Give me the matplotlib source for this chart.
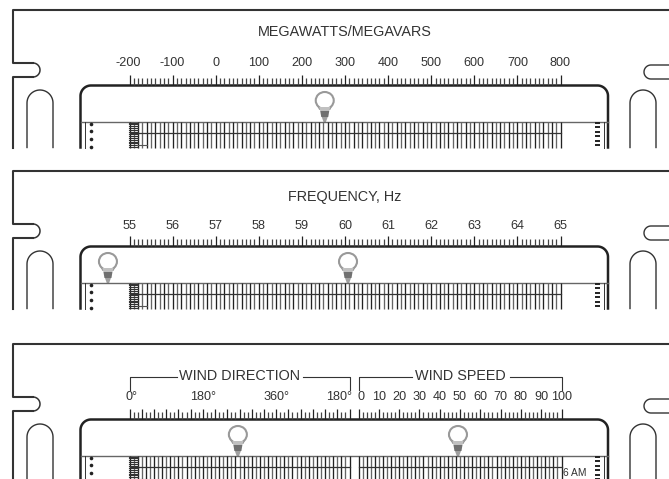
import numpy as np
import matplotlib
matplotlib.use('Agg')
import matplotlib.pyplot as plt
from matplotlib.patches import Polygon, Ellipse

plt.rcParams['font.family'] = ['Liberation Sans', 'DejaVu Sans']

# scale labels of the three meter panels
mw_labels = ['-200', '-100', '0', '100', '200', '300', '400', '500', '600', '700', '800']
hz_labels = ['55', '56', '57', '58', '59', '60', '61', '62', '63', '64', '65']
dir_labels = ['0°', '180°', '360°', '180°']
spd_labels = ['0', '10', '20', '30', '40', '50', '60', '70', '80', '90', '100']

mw_values = np.arange(-200, 801, 100)
hz_values = np.arange(55, 66, 1)
dir_values = [0, 180, 360, 540]
spd_values = np.arange(0, 101, 10)

# pointer readings
mw_pointer = [253]
hz_pointer = [54.5, 60.07]
dir_pointer = [266]
spd_pointer = [49]

dark = '#333333'
INK = 1.5

fig = plt.figure(figsize=(6.69, 4.79), dpi=100)
ax = fig.add_axes([0, 0, 1, 1])
ax.set_xlim(0, 669)
ax.set_ylim(479, 0)
ax.axis('off')


def arc(cx, cy, r, a0, a1):
    t = np.radians(np.linspace(a0, a1, 30))
    return cx + r * np.cos(t), cy + r * np.sin(t)


def frame(top, off):
    # outer plate with notches and slots, clipped at bottom
    bot = off + 147.5
    ax.plot([669, 13, 13, 33], [top, top, off + 63, off + 63], color=dark, lw=INK)
    x, y = arc(33, off + 70, 7, -90, 90)
    ax.plot(x, y, color=dark, lw=1.1)
    ax.plot([33, 13, 13], [off + 77, off + 77, bot], color=dark, lw=INK)
    # slots
    for x0 in (40, 643):
        x, y = arc(x0, off + 103, 13, 180, 360)
        ax.plot(np.r_[x0 - 13, x, x0 + 13], np.r_[bot, y, bot], color=dark, lw=1.0)
    # right notch
    x, y = arc(651, off + 72, 7, 90, 270)
    ax.plot(np.r_[669, x, 669], np.r_[off + 79, y, off + 65], color=dark, lw=1.0)
    # meter body
    x1, y1 = arc(91, off + 96, 10.5, 180, 270)
    x2, y2 = arc(597.5, off + 96, 10.5, 270, 360)
    ax.plot(np.r_[80.5, x1, x2, 608, 608], np.r_[bot, y1, y2, off + 96, bot],
            color='#222222', lw=1.8)
    ax.plot([80.5, 608], [off + 122, off + 122], color='#666666', lw=1.0)
    ax.plot([85, 85], [off + 122, bot], color=dark, lw=0.7)
    ax.plot([604, 604], [off + 122, bot], color=dark, lw=0.7)
    ax.plot([91] * 4, off + np.array([123.5, 131, 139, 146.5]), 'o', color='#222222', ms=2.6, mew=0)
    for yy in off + np.array([122.5, 127, 131.5, 136, 140.5, 145]):
        ax.plot([594.5, 600], [yy, yy], color='#222222', lw=1.4, solid_capstyle='butt')


def scale(x0, x1, off, n, every, label_vals, labels, vmin, vmax, nudge=None, label_y=62.5):
    xs = np.linspace(x0, x1, n + 1)
    for i, xx in enumerate(xs):
        tall = i % every == 0
        ax.plot([xx, xx], [off + (75 if tall else 78), off + 85], color='#222222' if tall else '#444444',
                lw=0.9, solid_capstyle='butt')
    for i, (v, s) in enumerate(zip(label_vals, labels)):
        xx = x0 + (v - vmin) / (vmax - vmin) * (x1 - x0)
        if nudge and i in nudge:
            xx += nudge[i]
        ax.text(xx, off + label_y, s, ha='center', va='center', fontsize=9.1, color=dark)


def grid(x0, x1, off, n):
    bot = off + 147.5
    for i, xx in enumerate(np.linspace(x0, x1, n + 1)):
        ax.plot([xx, xx], [off + 122, bot], color='#222222' if i % 2 == 0 else '#666666',
                lw=0.95, solid_capstyle='butt')
    ax.plot([x0, x1], [off + 133, off + 133], color=dark, lw=0.9)


def dense(off):
    bot = off + 147.5
    for yy in np.arange(off + 122.5, bot, 1.9):
        ax.plot([129, 137.5], [yy, yy], color='#333333', lw=0.8)
    ax.plot([137, 147], [off + 144.5, off + 144.5], color='#555555', lw=0.8)


def pointer(x, off):
    # bulb shaped meter pointer
    ax.add_patch(Polygon([[x - 8.5, off + 102], [x - 5, off + 109], [x + 5, off + 109], [x + 8.5, off + 102]],
                         fc='white', ec='#999999', lw=1.3))
    ax.add_patch(Ellipse((x, off + 100.5), 18, 17, fc='white', ec='#999999', lw=1.5))
    ax.add_patch(Polygon([[x - 5.5, off + 107], [x + 5.5, off + 107], [x + 4.5, off + 111], [x - 4.5, off + 111]],
                         fc='#c0c0c0', ec='none'))
    ax.add_patch(Polygon([[x - 4.5, off + 111], [x + 4.5, off + 111], [x + 3.5, off + 117], [x - 3.5, off + 117]],
                         fc='#707070', ec='none'))
    ax.add_patch(Polygon([[x - 3, off + 117], [x + 3, off + 117], [x + 1, off + 122.5], [x - 1, off + 122.5]],
                         fc='#a0a0a0', ec='none'))


X0, X1 = 129.5, 560.5

# panel 1
frame(10, 0)
ax.text(345, 31.5, 'MEGAWATTS/MEGAVARS', ha='center', va='center', fontsize=10.4, color=dark)
scale(X0, X1, 0, 100, 10, mw_values, mw_labels, -200, 800, {0: -1.5})
grid(X0, X1, 0, 100)
dense(0)
for v in mw_pointer:
    pointer(X0 + (v + 200) / 1000 * (X1 - X0), 0)

# panel 2
frame(171, 161)
ax.text(345, 197.5, 'FREQUENCY, Hz', ha='center', va='center', fontsize=10.4, color=dark)
scale(X0, X1, 161, 100, 10, hz_values, hz_labels, 55, 65, label_y=65)
grid(X0, X1, 161, 100)
dense(161)
for v in hz_pointer:
    pointer(X0 + (v - 55) / 10 * (X1 - X0), 161)

# panel 3
frame(344, 334)
D1 = 349.5
S0, S1 = 358.5, 561.5
scale(X0, D1, 334, 54, 3, dir_values, dir_labels, 0, 540, {0: 2, 3: -10.5})
scale(S0, S1, 334, 50, 5, spd_values, spd_labels, 0, 100, {0: 2})
grid(X0, D1, 334, 54)
grid(S0, S1, 334, 50)
dense(334)
for v in dir_pointer:
    pointer(X0 + v / 540 * (D1 - X0), 334)
for v in spd_pointer:
    pointer(S0 + v / 100 * (S1 - S0), 334)
ax.text(239.5, 375.5, 'WIND DIRECTION', ha='center', va='center', fontsize=10.4, color=dark)
ax.text(460, 375.5, 'WIND SPEED', ha='center', va='center', fontsize=10.4, color=dark)
ax.plot([X0, X0, 177], [390, 376.5, 376.5], color=dark, lw=0.8)
ax.plot([303, D1, D1], [376.5, 376.5, 390], color=dark, lw=0.8)
ax.plot([S0, S0, 412], [390, 376.5, 376.5], color=dark, lw=0.8)
ax.plot([510, S1, S1], [376.5, 376.5, 390], color=dark, lw=0.8)
ax.text(574.5, 473.5, '6 AM', ha='center', va='center', fontsize=7.4, color=dark)

fig.savefig('out.png', dpi=100)
